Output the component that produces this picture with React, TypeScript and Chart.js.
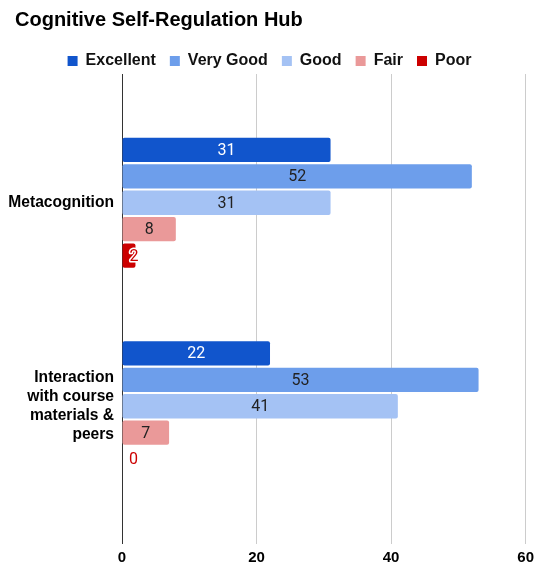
import React, { useEffect, useRef } from 'react';
import { Chart, registerables } from 'chart.js';

Chart.register(...registerables);

const categories: (string | string[])[] = ['Metacognition', ['Interaction', 'with course', 'materials &', 'peers']];
const seriesNames = ['Excellent', 'Very Good', 'Good', 'Fair', 'Poor'];
const excellent = [31, 22];
const veryGood = [52, 53];
const good = [31, 41];
const fair = [8, 7];
const poor = [2, 0];
const xMin = 0;
const xMax = 60;
const xStep = 20;
const seriesColors = ['#1155cc', '#6d9eeb', '#a4c2f4', '#ea9999', '#cc0000'];
const valueLabelColors = ['#ffffff', '#222222', '#222222', '#222222', '#cc0000'];

const FONT = '"Liberation Sans", Arial, sans-serif';

const gridColor = (c: any) => (c.tick && c.tick.value === 0 ? '#333333' : '#cccccc');

const valueLabels = {
  id: 'valueLabels',
  afterDatasetsDraw(chart: any) {
    const ctx = chart.ctx;
    ctx.save();
    ctx.font = '16px Roboto, "Liberation Sans", sans-serif';
    ctx.textBaseline = 'middle';
    ctx.textAlign = 'center';
    chart.data.datasets.forEach((ds: any, i: number) => {
      const meta = chart.getDatasetMeta(i);
      if (meta.hidden) return;
      meta.data.forEach((el: any, j: number) => {
        const v = ds.data[j];
        const { x, y, base } = el.getProps(['x', 'y', 'base'], true);
        const text = String(v);
        const tw = ctx.measureText(text).width;
        const w = Math.abs(x - base);
        if (w >= tw + 8) {
          ctx.fillStyle = valueLabelColors[i];
          ctx.fillText(text, (x + base) / 2, y + 1);
        } else {
          const cx = Math.max((x + base) / 2, base + tw / 2 + 7);
          ctx.lineWidth = 3;
          ctx.lineJoin = 'round';
          ctx.strokeStyle = '#ffffff';
          ctx.strokeText(text, cx, y + 1);
          ctx.fillStyle = valueLabelColors[i];
          ctx.fillText(text, cx, y + 1);
        }
      });
    });
    ctx.restore();
  },
};

const blockShift = {
  id: 'blockShift',
  afterLayout(chart: any) {
    if (chart.titleBlock) {
      chart.titleBlock.left = 15;
    }
    if (chart.legend) {
      chart.legend.left = 0;
      chart.legend.right = chart.width;
    }
  },
};

export default function App() {
  const canvasRef = useRef<HTMLCanvasElement | null>(null);

  useEffect(() => {
    document.body.style.margin = '0';
    const canvas = canvasRef.current;
    if (!canvas) return;
    const seriesData = [excellent, veryGood, good, fair, poor];
    const chart = new Chart(canvas, {
      type: 'bar',
      data: {
        labels: categories as any,
        datasets: seriesNames.map((name, i) => ({
          label: name,
          data: seriesData[i],
          backgroundColor: seriesColors[i],
          borderWidth: 0,
          borderRadius: 2,
          borderSkipped: false,
          categoryPercentage: 0.65,
          barPercentage: 0.92,
        })),
      },
      options: {
        indexAxis: 'y',
        animation: false,
        responsive: true,
        maintainAspectRatio: false,
        layout: { padding: { left: 0, right: 13, top: 0, bottom: 0 } },
        plugins: {
          title: {
            display: true,
            text: 'Cognitive Self-Regulation Hub',
            align: 'start',
            color: '#000000',
            font: { family: FONT, size: 20, weight: 'bold' },
            padding: { top: 8, bottom: 7 },
          },
          legend: {
            display: true,
            position: 'top',
            labels: {
              boxWidth: 10,
              boxHeight: 10,
              padding: 14,
              color: '#111111',
              font: { family: FONT, size: 16, weight: 'bold' },
            },
          },
          tooltip: { enabled: false },
        },
        scales: {
          x: {
            type: 'linear',
            position: 'bottom',
            min: xMin,
            max: xMax,
            ticks: {
              stepSize: xStep,
              padding: 5,
              color: '#000000',
              font: { family: FONT, size: 15, weight: 'bold' },
            },
            grid: {
              color: gridColor,
              tickColor: gridColor,
              drawTicks: true,
              tickLength: 36,
              lineWidth: 1,
            },
            border: { display: false },
          },
          x2: {
            type: 'linear',
            position: 'top',
            min: xMin,
            max: xMax,
            afterFit: (scale: any) => {
              scale.height = 22;
            },
            ticks: { display: false, stepSize: xStep },
            grid: {
              drawOnChartArea: false,
              drawTicks: true,
              tickLength: 27,
              color: gridColor,
              tickColor: gridColor,
            },
            border: { display: false },
          },
          y: {
            type: 'category',
            afterFit: (scale: any) => {
              scale.width = 122;
            },
            ticks: {
              padding: 8,
              color: '#000000',
              font: { family: FONT, size: 15.6, weight: 'bold', lineHeight: 1.23 },
            },
            grid: { display: false, drawTicks: false },
            border: { display: false },
          },
        },
      } as any,
      plugins: [valueLabels, blockShift],
    });
    return () => chart.destroy();
  }, []);

  return (
    <div style={{ position: 'relative', width: 539, height: 572 }}>
      <canvas ref={canvasRef} />
    </div>
  );
}
